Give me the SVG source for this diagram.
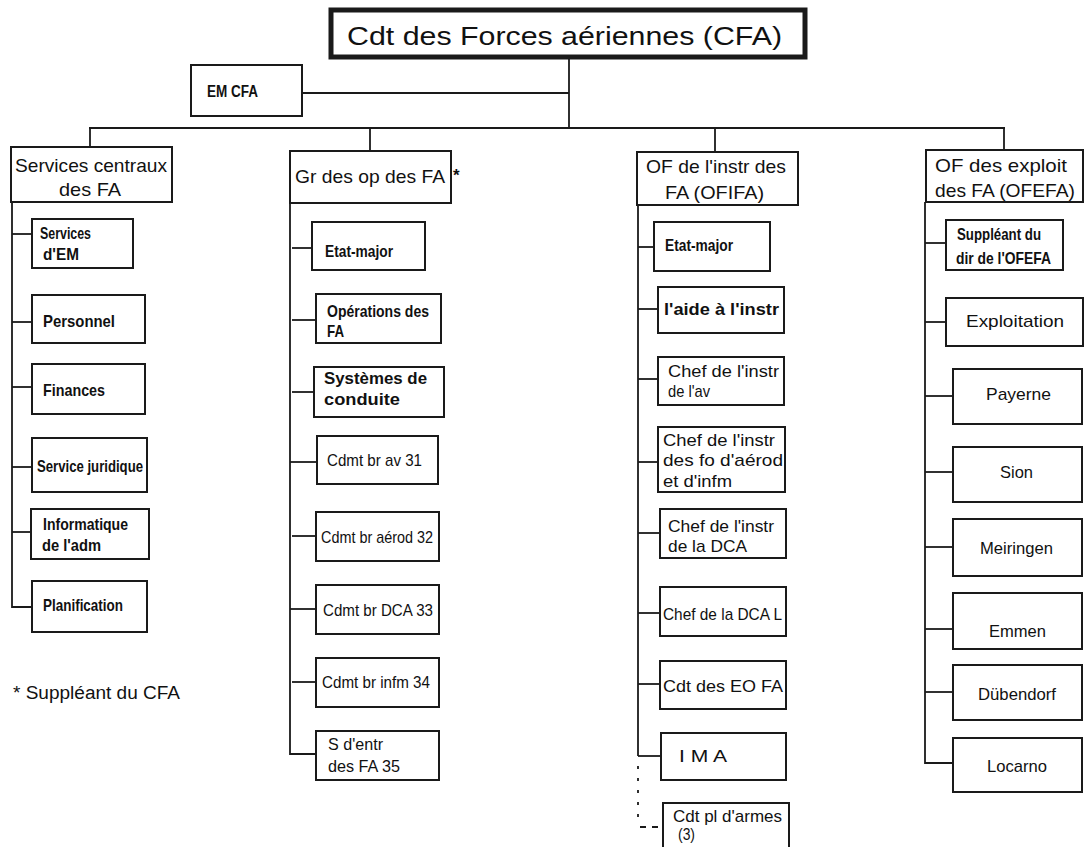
<svg xmlns="http://www.w3.org/2000/svg" width="1084" height="847" viewBox="0 0 1084 847">
<style>
rect.n{fill:#fff;stroke:#1a1a1a;stroke-width:2}
rect.top{fill:#fff;stroke:#1a1a1a;stroke-width:5}
.c line,.c path{stroke:#1a1a1a;stroke-width:1.8;fill:none}
.c .dot{stroke-dasharray:3 9}
.c .dash{stroke-dasharray:6 6}
text{font-family:"Liberation Sans",Arial,Helvetica,sans-serif;fill:#111}
.h{font-size:19px}
.tt{font-size:26px}
.tb{font-size:17px;font-weight:bold}
.tr{font-size:17px}
.em{font-size:16px;font-weight:bold}
.fn{font-size:18px}
</style>
<rect width="1084" height="847" fill="#fff"/>
<g class="c" id="connectors">
<line x1="569" y1="58" x2="569" y2="128"/>
<line x1="302" y1="93" x2="569" y2="93"/>
<line x1="89" y1="128" x2="1005" y2="128"/>
<line x1="90" y1="128" x2="90" y2="147"/>
<line x1="370" y1="128" x2="370" y2="151"/>
<line x1="715" y1="128" x2="715" y2="152"/>
<line x1="1004" y1="128" x2="1004" y2="150"/>
<path d="M12 202 V607 H32"/>
<line x1="12" y1="234" x2="32" y2="234"/>
<line x1="12" y1="322" x2="32" y2="322"/>
<line x1="12" y1="387" x2="32" y2="387"/>
<line x1="12" y1="467" x2="32" y2="467"/>
<line x1="12" y1="532" x2="31" y2="532"/>
<path d="M290 203 V754 H316"/>
<line x1="292" y1="248" x2="312" y2="248"/>
<line x1="292" y1="320" x2="316" y2="320"/>
<line x1="292" y1="392" x2="314" y2="392"/>
<line x1="290" y1="462" x2="317" y2="462"/>
<line x1="292" y1="536" x2="316" y2="536"/>
<line x1="290" y1="609" x2="316" y2="609"/>
<line x1="292" y1="682" x2="316" y2="682"/>
<line x1="638" y1="205" x2="638" y2="756"/>
<line x1="638" y1="247" x2="654" y2="247"/>
<line x1="638" y1="309" x2="658" y2="309"/>
<line x1="638" y1="379" x2="658" y2="379"/>
<line x1="638" y1="462" x2="658" y2="462"/>
<line x1="638" y1="533" x2="660" y2="533"/>
<line x1="638" y1="613" x2="660" y2="613"/>
<line x1="638" y1="684" x2="660" y2="684"/>
<line x1="638" y1="756" x2="661" y2="756"/>
<line class="dot" x1="638" y1="766" x2="638" y2="824"/>
<line class="dash" x1="640" y1="827" x2="663" y2="827"/>
<path d="M925 202 V763 H953"/>
<line x1="925" y1="243" x2="946" y2="243"/>
<line x1="925" y1="322" x2="946" y2="322"/>
<line x1="925" y1="396" x2="953" y2="396"/>
<line x1="925" y1="472" x2="953" y2="472"/>
<line x1="925" y1="547" x2="953" y2="547"/>
<line x1="925" y1="629" x2="953" y2="629"/>
<line x1="925" y1="692" x2="953" y2="692"/>
</g>
<g id="cfa"><rect class="top" x="331" y="10" width="474" height="47"/><text class="tt" x="347" y="45" textLength="435" lengthAdjust="spacingAndGlyphs">Cdt des Forces aériennes (CFA)</text></g>
<g id="emcfa"><rect class="n" x="191" y="65" width="111" height="51"/><text class="em" x="207" y="97" textLength="51" lengthAdjust="spacingAndGlyphs">EM CFA</text></g>

<g id="sc"><rect class="n" x="11" y="147" width="161" height="55"/><text class="h" x="15" y="172" textLength="152" lengthAdjust="spacingAndGlyphs">Services centraux</text><text class="h" x="59" y="196" textLength="62" lengthAdjust="spacingAndGlyphs">des FA</text></g>
<g id="sc1"><rect class="n" x="32" y="219" width="101" height="49"/><text class="tb" x="40" y="239" textLength="51" lengthAdjust="spacingAndGlyphs">Services</text><text class="tb" x="43" y="260" textLength="36" lengthAdjust="spacingAndGlyphs">d'EM</text></g>
<g id="sc2"><rect class="n" x="32" y="295" width="113" height="48"/><text class="tb" x="43" y="327" textLength="72" lengthAdjust="spacingAndGlyphs">Personnel</text></g>
<g id="sc3"><rect class="n" x="32" y="364" width="113" height="50"/><text class="tb" x="43" y="396" textLength="62" lengthAdjust="spacingAndGlyphs">Finances</text></g>
<g id="sc4"><rect class="n" x="32" y="438" width="115" height="54"/><text class="tb" x="37" y="472" textLength="106" lengthAdjust="spacingAndGlyphs">Service juridique</text></g>
<g id="sc5"><rect class="n" x="31" y="509" width="118" height="50"/><text class="tb" x="43" y="530" textLength="85" lengthAdjust="spacingAndGlyphs">Informatique</text><text class="tb" x="42" y="551" textLength="59" lengthAdjust="spacingAndGlyphs">de l'adm</text></g>
<g id="sc6"><rect class="n" x="32" y="581" width="115" height="51"/><text class="tb" x="43" y="611" textLength="80" lengthAdjust="spacingAndGlyphs">Planification</text></g>

<g id="gr"><rect class="n" x="290" y="151" width="161" height="52"/><text class="h" x="295" y="183" textLength="150" lengthAdjust="spacingAndGlyphs">Gr des op des FA</text><text class="tb" x="453" y="181">*</text></g>
<g id="gr1"><rect class="n" x="312" y="222" width="113" height="48"/><text class="tb" x="325" y="257" textLength="68" lengthAdjust="spacingAndGlyphs">Etat-major</text></g>
<g id="gr2"><rect class="n" x="316" y="294" width="125" height="49"/><text class="tb" x="327" y="317" textLength="102" lengthAdjust="spacingAndGlyphs">Opérations des</text><text class="tb" x="327" y="337" textLength="17" lengthAdjust="spacingAndGlyphs">FA</text></g>
<g id="gr3"><rect class="n" x="314" y="367" width="130" height="50"/><text class="tb" x="324" y="384" textLength="103" lengthAdjust="spacingAndGlyphs">Systèmes de</text><text class="tb" x="324" y="405" textLength="76" lengthAdjust="spacingAndGlyphs">conduite</text></g>
<g id="gr4"><rect class="n" x="317" y="436" width="121" height="48"/><text class="tr" x="327" y="466" textLength="95" lengthAdjust="spacingAndGlyphs">Cdmt br av 31</text></g>
<g id="gr5"><rect class="n" x="316" y="512" width="123" height="49"/><text class="tr" x="321" y="543" textLength="112" lengthAdjust="spacingAndGlyphs">Cdmt br aérod 32</text></g>
<g id="gr6"><rect class="n" x="316" y="585" width="123" height="49"/><text class="tr" x="323" y="616" textLength="110" lengthAdjust="spacingAndGlyphs">Cdmt br DCA 33</text></g>
<g id="gr7"><rect class="n" x="316" y="658" width="123" height="49"/><text class="tr" x="322" y="688" textLength="108" lengthAdjust="spacingAndGlyphs">Cdmt br infm 34</text></g>
<g id="gr8"><rect class="n" x="316" y="731" width="123" height="49"/><text class="tr" x="328" y="750" textLength="55" lengthAdjust="spacingAndGlyphs">S d'entr</text><text class="tr" x="328" y="772" textLength="72" lengthAdjust="spacingAndGlyphs">des FA 35</text></g>

<g id="ofifa"><rect class="n" x="637" y="152" width="161" height="53"/><text class="h" x="646" y="173" textLength="140" lengthAdjust="spacingAndGlyphs">OF de l'instr des</text><text class="h" x="665" y="199" textLength="99" lengthAdjust="spacingAndGlyphs">FA (OFIFA)</text></g>
<g id="of1"><rect class="n" x="654" y="222" width="116" height="49"/><text class="tb" x="665" y="251" textLength="68" lengthAdjust="spacingAndGlyphs">Etat-major</text></g>
<g id="of2"><rect class="n" x="658" y="287" width="126" height="46"/><text class="tb" x="664" y="315" textLength="115" lengthAdjust="spacingAndGlyphs">l'aide à l'instr</text></g>
<g id="of3"><rect class="n" x="658" y="357" width="126" height="48"/><text class="tr" x="668" y="377" textLength="111" lengthAdjust="spacingAndGlyphs">Chef de l'instr</text><text class="tr" x="668" y="397" textLength="42" lengthAdjust="spacingAndGlyphs">de l'av</text></g>
<g id="of4"><rect class="n" x="658" y="427" width="127" height="65"/><text class="tr" x="663" y="446" textLength="112" lengthAdjust="spacingAndGlyphs">Chef de l'instr</text><text class="tr" x="663" y="466" textLength="120" lengthAdjust="spacingAndGlyphs">des fo d'aérod</text><text class="tr" x="663" y="487" textLength="69" lengthAdjust="spacingAndGlyphs">et d'infm</text></g>
<g id="of5"><rect class="n" x="660" y="509" width="126" height="49"/><text class="tr" x="668" y="532" textLength="106" lengthAdjust="spacingAndGlyphs">Chef de l'instr</text><text class="tr" x="668" y="552" textLength="79" lengthAdjust="spacingAndGlyphs">de la DCA</text></g>
<g id="of6"><rect class="n" x="660" y="587" width="126" height="49"/><text class="tr" x="663" y="620" textLength="119" lengthAdjust="spacingAndGlyphs">Chef de la DCA L</text></g>
<g id="of7"><rect class="n" x="660" y="661" width="126" height="48"/><text class="tr" x="663" y="692" textLength="120" lengthAdjust="spacingAndGlyphs">Cdt des EO FA</text></g>
<g id="of8"><rect class="n" x="661" y="733" width="125" height="47"/><text class="tr" x="679" y="762" textLength="48" lengthAdjust="spacingAndGlyphs">I M A</text></g>
<g id="of9"><rect class="n" x="663" y="803" width="126" height="52"/><text class="tr" x="673" y="822" textLength="109" lengthAdjust="spacingAndGlyphs">Cdt pl d'armes</text><text class="tr" x="678" y="840" textLength="17" lengthAdjust="spacingAndGlyphs">(3)</text></g>

<g id="ofefa"><rect class="n" x="926" y="150" width="157" height="52"/><text class="h" x="935" y="172" textLength="132" lengthAdjust="spacingAndGlyphs">OF des exploit</text><text class="h" x="935" y="197" textLength="140" lengthAdjust="spacingAndGlyphs">des FA (OFEFA)</text></g>
<g id="oe1"><rect class="n" x="946" y="220" width="117" height="50"/><text class="tb" x="957" y="240" textLength="84" lengthAdjust="spacingAndGlyphs">Suppléant du</text><text class="tb" x="956" y="264" textLength="95" lengthAdjust="spacingAndGlyphs">dir de l'OFEFA</text></g>
<g id="oe2"><rect class="n" x="946" y="298" width="137" height="48"/><text class="tr" x="966" y="327" textLength="98" lengthAdjust="spacingAndGlyphs">Exploitation</text></g>
<g id="oe3"><rect class="n" x="953" y="369" width="129" height="55"/><text class="tr" x="986" y="400" textLength="65" lengthAdjust="spacingAndGlyphs">Payerne</text></g>
<g id="oe4"><rect class="n" x="953" y="447" width="129" height="55"/><text class="tr" x="1000" y="478" textLength="33" lengthAdjust="spacingAndGlyphs">Sion</text></g>
<g id="oe5"><rect class="n" x="953" y="519" width="129" height="57"/><text class="tr" x="980" y="554" textLength="73" lengthAdjust="spacingAndGlyphs">Meiringen</text></g>
<g id="oe6"><rect class="n" x="953" y="593" width="129" height="56"/><text class="tr" x="989" y="637" textLength="57" lengthAdjust="spacingAndGlyphs">Emmen</text></g>
<g id="oe7"><rect class="n" x="953" y="665" width="129" height="55"/><text class="tr" x="978" y="700" textLength="78" lengthAdjust="spacingAndGlyphs">Dübendorf</text></g>
<g id="oe8"><rect class="n" x="953" y="738" width="129" height="54"/><text class="tr" x="987" y="772" textLength="60" lengthAdjust="spacingAndGlyphs">Locarno</text></g>

<text class="fn" x="13" y="699" textLength="167" lengthAdjust="spacingAndGlyphs">* Suppléant du CFA</text>
</svg>
